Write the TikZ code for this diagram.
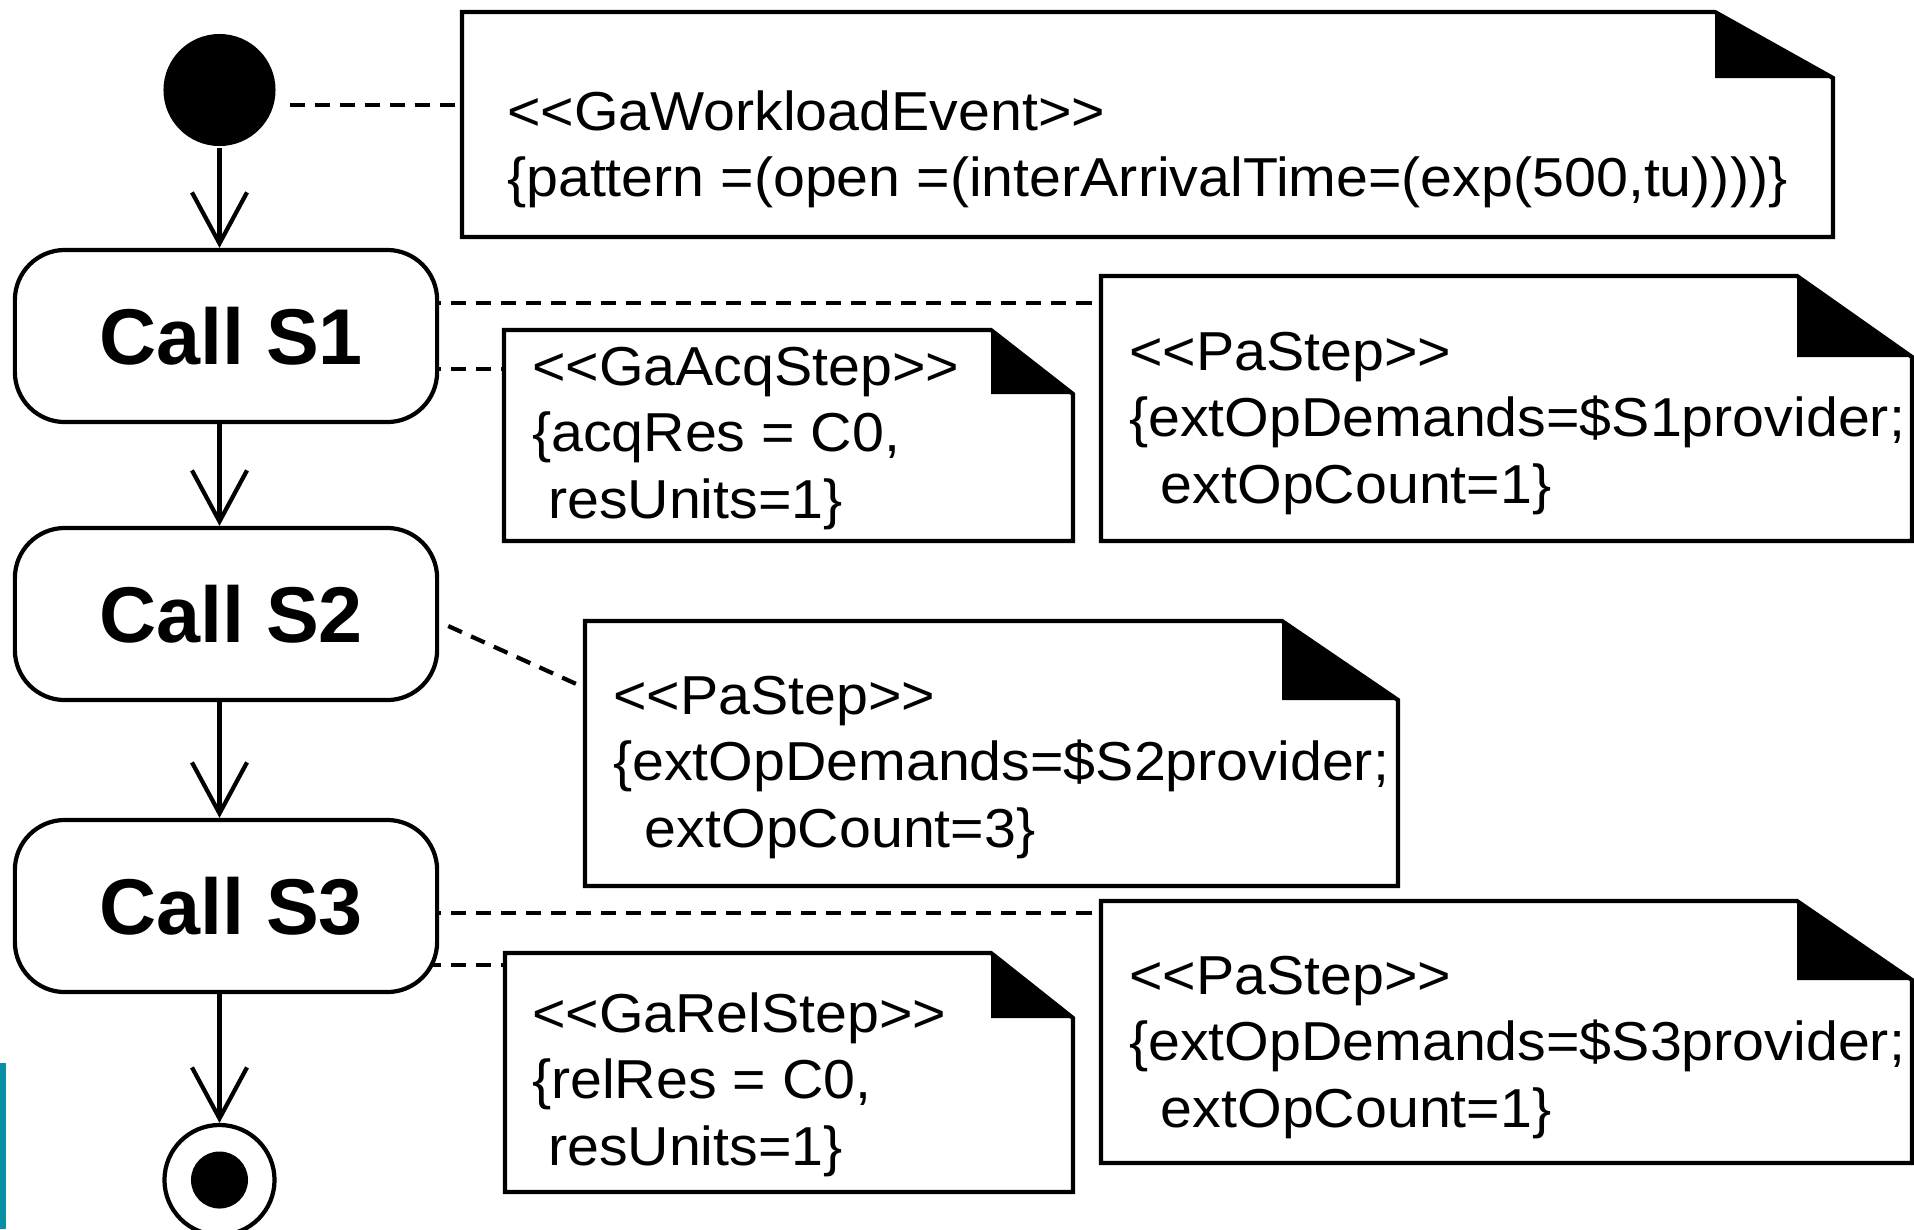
\documentclass[tikz,border=0pt]{standalone}
\usepackage{fontspec}
\setmainfont{Liberation Sans}
\newfontfamily\notefont[FakeStretch=1.045]{Liberation Sans}
\usetikzlibrary{arrows.meta,backgrounds,fit}
\definecolor{edgeteal}{HTML}{0A8FA6}

% stereotype brackets, kept apart so they do not turn into guillemets
\newcommand\stOpen{<\kern0pt<}
\newcommand\stClose{>\kern0pt>}
% stacked note lines with a fixed line pitch; baseline = first line
\newcommand\notelines[1]{\vtop{\baselineskip=0.665cm\lineskiplimit=-1cm #1}}

% UML note with a folded corner: name, left, top, right, bottom, fold x, fold y
\newcommand\umlnote[7]{%
  \coordinate (#1-nw) at (#2,#3);
  \coordinate (#1-se) at (#4,#5);
  \node[fit=(#1-nw)(#1-se), inner sep=0pt] (#1) {};
  \draw[fill=white] (#2,#3) -- (#6,#3) -- (#4,#7) -- (#4,#5) -- (#2,#5) -- cycle;
  \fill (#6,#3) -- (#6,#7) -- (#4,#7) -- cycle;
}

\begin{document}
\begin{tikzpicture}[x=0.01cm, y=-0.01cm, line width=1.2pt,
  action/.style={draw, fill=white, rounded corners=0.5cm, minimum width=4.22cm,
    minimum height=1.72cm, inner sep=0pt, font=\fontsize{22.5}{26}\selectfont\bfseries},
  notetext/.style={anchor=base west, inner sep=0pt, font=\notefont\fontsize{15.6}{18}\selectfont},
  link/.style={line width=1.2pt, dash pattern=on 0.15cm off 0.1cm},
  flow/.style={-{Straight Barb[length=0.51cm, width=0.55cm]}},
]
\useasboundingbox (0,0) rectangle (1914,1229);

% edge strip
\fill[edgeteal] (0,1063) rectangle (6,1229);

% activity flow
\node[circle, fill, minimum size=1.12cm, inner sep=0pt] (start) at (219.5,90) {};
\node[action] (s1) at (226,336) {\hspace{0.1cm}Call S1};
\node[action] (s2) at (226,614) {\hspace{0.1cm}Call S2};
\node[action] (s3) at (226,906) {\hspace{0.1cm}Call S3};
\node[circle, draw, minimum size=1.1cm, inner sep=0pt] (final) at (219.5,1180) {};
\fill (final.center) circle (0.285cm);

\draw[flow] (start) -- (start |- s1.north);
\draw[flow] (s1.south -| start) -- (s2.north -| start);
\draw[flow] (s2.south -| start) -- (s3.north -| start);
\draw[flow] (s3.south -| start) -- (final);

% annotation notes
\umlnote{ev}{462}{12}{1833}{237}{1715}{78}
\umlnote{acq}{504}{330}{1073}{541}{991}{394}
\umlnote{pa1}{1101}{276}{1912}{541}{1797}{357}
\umlnote{pa2}{585}{621}{1398}{886}{1282}{700}
\umlnote{pa3}{1101}{901}{1912}{1163}{1797}{980}
\umlnote{rel}{505}{953}{1073}{1192}{991}{1018}

\node[notetext] (evtext) at (505,130) {\notelines{%
  \hbox{\stOpen GaWorkloadEvent\stClose}%
  \hbox{\{pattern =(open =(interArrivalTime=(exp(500,tu))))\}}}};
\node[notetext] (acqtext) at (530,385) {\notelines{%
  \hbox{\stOpen GaAcqStep\stClose}%
  \hbox{\{acqRes = C0,}%
  \hbox{\ resUnits=1\}}}};
\node[notetext] (pa1text) at (1127,370) {\notelines{%
  \hbox{\stOpen PaStep\stClose}%
  \hbox{\{extOpDemands=\$S1provider;}%
  \hbox{\ \ extOpCount=1\}}}};
\node[notetext] (pa2text) at (611,714) {\notelines{%
  \hbox{\stOpen PaStep\stClose}%
  \hbox{\{extOpDemands=\$S2provider;}%
  \hbox{\ \ extOpCount=3\}}}};
\node[notetext] (pa3text) at (1127,994) {\notelines{%
  \hbox{\stOpen PaStep\stClose}%
  \hbox{\{extOpDemands=\$S3provider;}%
  \hbox{\ \ extOpCount=1\}}}};
\node[notetext] (reltext) at (530,1032) {\notelines{%
  \hbox{\stOpen GaRelStep\stClose}%
  \hbox{\{relRes = C0,}%
  \hbox{\ resUnits=1\}}}};

% dashed note anchors, kept behind the shapes
\coordinate (d0) at ([xshift=0.12cm, yshift=-0.15cm]start.east);
\coordinate (d1a) at ([yshift=0.33cm]s1.center);
\coordinate (d1b) at ([yshift=-0.33cm]s1.center);
\coordinate (d2a) at ([xshift=0.09cm, yshift=-0.12cm]s2.east);
\coordinate (d2b) at ([yshift=0.665cm]pa2.west);
\coordinate (d3a) at ([yshift=-0.07cm]s3.center);
\coordinate (d3b) at ([yshift=-0.59cm]s3.center);
\begin{pgfonlayer}{background}
  \draw[link] (d0) -- (d0 -| ev.west);
  \draw[link] (d1a) -- (d1a -| pa1.west);
  \draw[link] (d1b) -- (d1b -| acq.west);
  \draw[link] (d2a) -- (d2b);
  \draw[link] (d3a) -- (d3a -| pa3.west);
  \draw[link] (d3b) -- (d3b -| rel.west);
\end{pgfonlayer}
\end{tikzpicture}
\end{document}
